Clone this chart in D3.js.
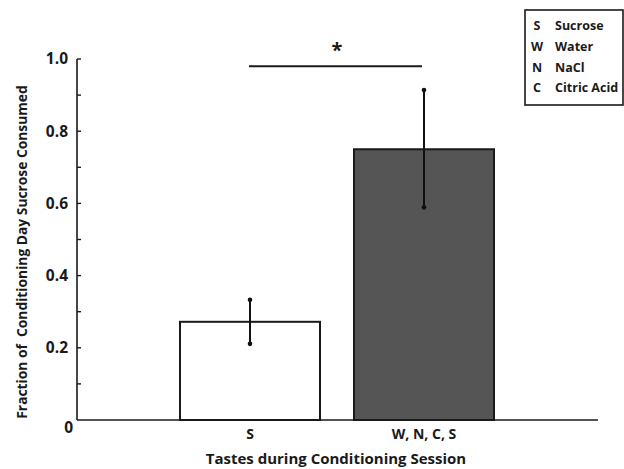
<!DOCTYPE html>
<html>
<head>
<meta charset="utf-8">
<script src="https://cdn.jsdelivr.net/npm/d3@7"></script>
<style>
  body { margin: 0; background: #fff; }
  text { font-family: "Open Sans", "DejaVu Sans", sans-serif; font-weight: bold; fill: #1a1a1a; }
</style>
</head>
<body>
<div id="chart"></div>
<script>
// data
const groups = ["S", "W, N, C, S"];
const means = [0.272, 0.75];
const errLow = [0.211, 0.589];
const errHigh = [0.333, 0.914];
const fills = ["#ffffff", "#555555"];
const yTicks = [0, 0.2, 0.4, 0.6, 0.8, 1.0];
const yMinor = [0.1, 0.3, 0.5, 0.7, 0.9];
const legendKeys = ["S", "W", "N", "C"];
const legendNames = ["Sucrose", "Water", "NaCl", "Citric Acid"];

const W = 624, H = 469;
const margin = {top: 59, left: 77};

const svg = d3.select("#chart").append("svg")
  .attr("width", W).attr("height", H);

const g = svg.append("g")
  .attr("transform", "translate(" + margin.left + "," + margin.top + ")");

// bars sit at fixed spots along the axis
const xc = d3.scaleOrdinal().domain(groups).range([173, 347]);
const barW = 140;

const y = d3.scaleLinear().domain([0, 1]).range([361, 0]);

// bars
g.selectAll("rect.bar")
  .data(groups)
  .join("rect")
  .attr("class", "bar")
  .attr("x", d => xc(d) - barW / 2)
  .attr("width", barW)
  .attr("y", (d, i) => y(means[i]))
  .attr("height", (d, i) => y(0) - y(means[i]))
  .attr("fill", (d, i) => fills[i])
  .attr("stroke", "#1a1a1a")
  .attr("stroke-width", 2);

// error bars
groups.forEach((d, i) => {
  g.append("line")
    .attr("x1", xc(d)).attr("x2", xc(d))
    .attr("y1", y(errLow[i])).attr("y2", y(errHigh[i]))
    .attr("stroke", "#111").attr("stroke-width", 2);
  [errLow[i], errHigh[i]].forEach(v => {
    g.append("circle").attr("cx", xc(d)).attr("cy", y(v)).attr("r", 2.3).attr("fill", "#111");
  });
});

// axes
g.append("line").attr("x1", 0).attr("x2", 0).attr("y1", y(1)).attr("y2", y(0))
  .attr("stroke", "#1a1a1a").attr("stroke-width", 1.6);
g.append("line").attr("x1", 0).attr("x2", 521).attr("y1", y(0)).attr("y2", y(0))
  .attr("stroke", "#1a1a1a").attr("stroke-width", 1.6);

g.selectAll("line.tick")
  .data(yTicks.concat(yMinor).filter(v => v > 0))
  .join("line")
  .attr("class", "tick")
  .attr("x1", 0).attr("x2", 4)
  .attr("y1", d => y(d)).attr("y2", d => y(d))
  .attr("stroke", "#1a1a1a").attr("stroke-width", 1.4);

g.selectAll("text.ylab")
  .data(yTicks)
  .join("text")
  .attr("class", "ylab")
  .attr("x", d => d === 0 ? -4 : -9)
  .attr("y", d => d === 0 ? y(d) + 8 : y(d))
  .attr("dy", "0.35em")
  .attr("text-anchor", "end")
  .attr("font-size", 15.5)
  .text(d => d === 0 ? "0" : d3.format(".1f")(d));

// x labels
g.selectAll("text.xlab")
  .data(groups)
  .join("text")
  .attr("class", "xlab")
  .attr("x", d => xc(d))
  .attr("y", y(0) + 14)
  .attr("dy", "0.35em")
  .attr("text-anchor", "middle")
  .attr("font-size", 14)
  .text(d => d);

// axis titles
svg.append("text")
  .attr("x", 336).attr("y", 459)
  .attr("dy", "0.35em")
  .attr("text-anchor", "middle")
  .attr("font-size", 15)
  .text("Tastes during Conditioning Session");

svg.append("text")
  .attr("transform", "translate(22,252) rotate(-90)")
  .attr("dy", "0.35em")
  .attr("text-anchor", "middle")
  .attr("font-size", 13.8)
  .style("white-space", "pre")
  .text("Fraction of  Conditioning Day Sucrose Consumed");

// significance bar
g.append("line")
  .attr("x1", xc(groups[0]) - 1).attr("x2", xc(groups[1]) - 2)
  .attr("y1", y(0.98)).attr("y2", y(0.98))
  .attr("stroke", "#1a1a1a").attr("stroke-width", 2);
g.append("text")
  .attr("x", (xc(groups[0]) + xc(groups[1])) / 2)
  .attr("y", y(1.005))
  .attr("text-anchor", "middle")
  .attr("font-size", 20)
  .text("*");

// legend
const leg = svg.append("g").attr("transform", "translate(525,10)");
leg.append("rect").attr("width", 98).attr("height", 95)
  .attr("fill", "#fff").attr("stroke", "#1a1a1a").attr("stroke-width", 1.6);
const rowY = d3.scalePoint().domain(legendKeys).range([16, 78]);
leg.selectAll("text.key")
  .data(legendKeys)
  .join("text")
  .attr("class", "key")
  .attr("x", 12).attr("y", d => rowY(d))
  .attr("dy", "0.35em")
  .attr("text-anchor", "middle")
  .attr("font-size", 12.5)
  .text(d => d);
leg.selectAll("text.name")
  .data(legendNames)
  .join("text")
  .attr("class", "name")
  .attr("x", 30).attr("y", (d, i) => rowY(legendKeys[i]))
  .attr("dy", "0.35em")
  .attr("font-size", 12.5)
  .text(d => d);
</script>
</body>
</html>
